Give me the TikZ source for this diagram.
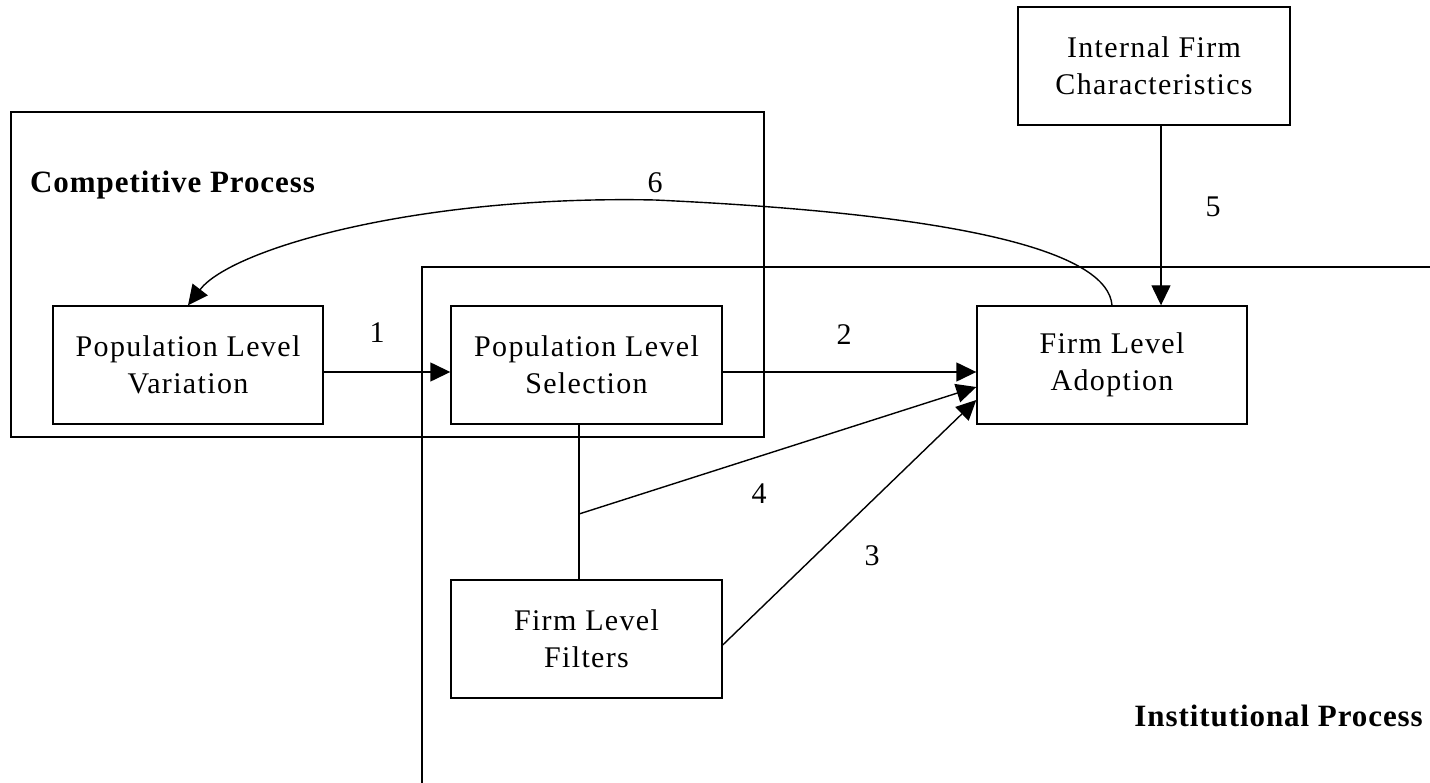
\documentclass[tikz,border=0pt]{standalone}
\usepackage{fontspec}
\setmainfont{Liberation Serif}[LetterSpace=4.5]
\newfontfamily\boldlbl{Liberation Serif Bold}[LetterSpace=3]
\usetikzlibrary{arrows.meta,calc}
\begin{document}
\begin{tikzpicture}[x=1pt,y=-1pt,
  every node/.style={font=\fontsize{30}{37}\selectfont},
  box/.style={draw,line width=1.4pt,inner sep=0pt,minimum width=271pt,minimum height=118pt,align=center},
  ln/.style={line width=1.4pt},
  arr/.style={line width=1.4pt,-{Triangle[length=20pt,width=19pt]}},
  num/.style={inner sep=0pt},
  proc/.style={inner sep=0pt,font=\boldlbl\fontsize{31}{36}\selectfont}]
\useasboundingbox (0,0) rectangle (1430,783);
% process frames
\draw[ln] (11,112) rectangle (764,437);
\draw[ln] (1430,267) -- (422,267) -- (422,783);
\node[proc,anchor=base west] (comp) at (30,193) {Competitive Process};
\node[proc,anchor=base east] (inst) at (1423,726) {Institutional Process};
% boxes
\node[box,minimum width=272pt] (int) at (1154,66) {Internal Firm\\Characteristics};
\node[box,minimum width=270pt] (var) at (188,365) {Population Level\\Variation};
\node[box] (sel) at (586.5,365) {Population Level\\Selection};
\node[box] (filt) at (586.5,639) {Firm Level\\Filters};
\node[box,minimum width=270pt] (adopt) at (1112,365) {Firm Level\\Adoption};
% connectors
\draw[arr] ([yshift=-7pt]var.east) -- ([yshift=-7pt]sel.west);
\draw[arr] ([yshift=-7pt]sel.east) -- ([yshift=-7pt]adopt.west);
\draw[ln] ([xshift=-7.5pt]sel.south) -- ([xshift=-7.5pt]filt.north);
\coordinate (j) at (579,514);
\draw[arr] (j) -- ([yshift=-22pt]adopt.west);
\draw[arr] ([yshift=-6pt]filt.east) -- ([yshift=-35pt]adopt.west);
\draw[arr] ([xshift=7pt]int.south) -- ([xshift=7pt]int.south |- adopt.north);
\draw[arr] (adopt.north) .. controls (1108,255) and (980,215) .. (655,200)
  .. controls (420,195) and (232,248) .. (var.north);
% labels
\node[num] (l1) at (377,333) {1};
\node[num] (l2) at (844,335) {2};
\node[num] (l3) at (872,556) {3};
\node[num] (l4) at (759,494) {4};
\node[num] (l5) at (1213,207) {5};
\node[num] (l6) at (655,183) {6};
\end{tikzpicture}
\end{document}
